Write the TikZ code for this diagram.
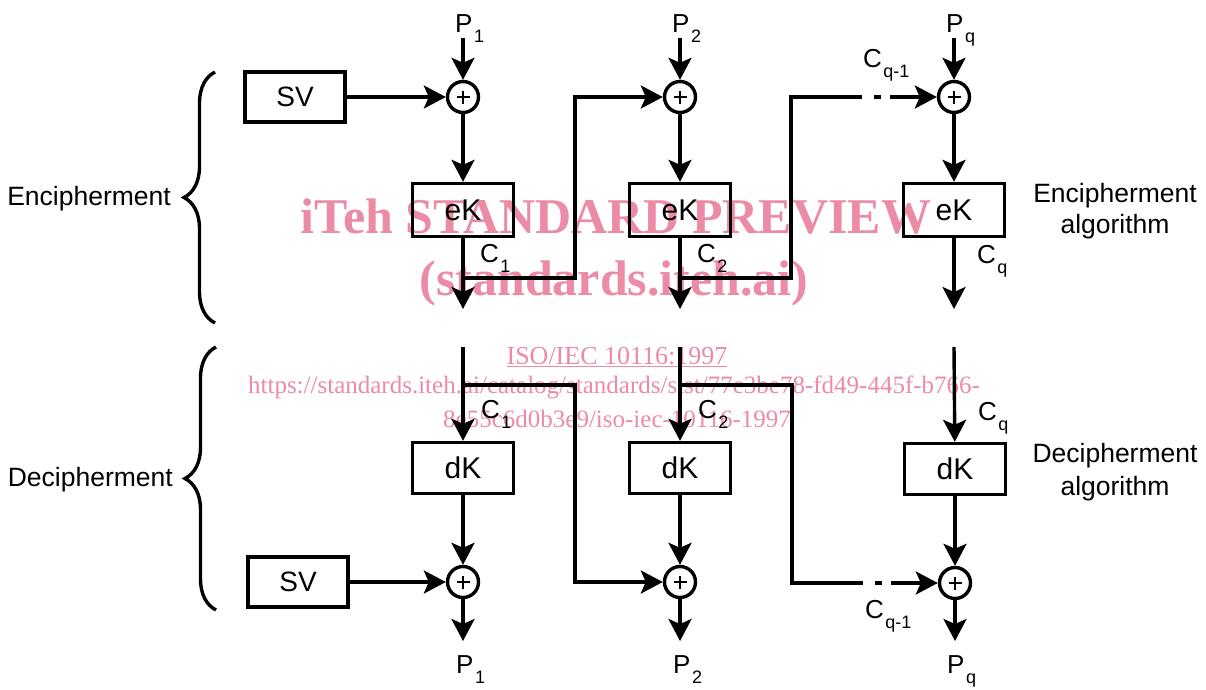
\documentclass[tikz,border=0pt]{standalone}
\usepackage{fontspec}
\setmainfont{Liberation Sans}
\newfontfamily\wmfont{Liberation Serif}
\usetikzlibrary{arrows.meta,decorations.pathreplacing,calc}
\definecolor{wmpink}{RGB}{236,139,165}
\newcommand\fsz[1]{\fontsize{#1}{#1}\selectfont}
\newcommand\sbs[1]{\hspace{1.5pt}\raisebox{-10.5pt}{\fsz{18}#1}}
\begin{document}
\begin{tikzpicture}[x=1pt,y=-1pt,
  lw/.style={line width=3.4pt},
  arr/.style={lw,-{Stealth[length=22pt,width=23pt,inset=5pt]}},
  blk/.style={draw,lw,minimum width=101pt,minimum height=53pt,inner sep=0pt,font=\fsz{30}},
  svbox/.style={draw,lw,minimum width=100pt,minimum height=50pt,inner sep=0pt,font=\fsz{28}},
  xor/.style={circle,draw,lw,minimum size=31pt,inner sep=0pt,
    path picture={\draw[line width=2.3pt]
      ($(path picture bounding box.center)+(-6.5pt,0pt)$) -- ++(13pt,0pt)
      ($(path picture bounding box.center)+(0pt,-6.5pt)$) -- ++(0pt,13pt);}},
  lab/.style={font=\fsz{26},inner sep=0pt,anchor=base west},
  side/.style={font=\fsz{26.5},inner sep=0pt},
  wm/.style={text=wmpink,inner sep=0pt,anchor=base},
  curly/.style={lw,decorate,decoration={brace,amplitude=31pt}}]
\useasboundingbox (0,0) rectangle (1206,689);

% watermark (behind the diagram)
\node[wm,font={\wmfont\bfseries\fsz{50}}] (wm1) at (616,233) {iTeh STANDARD PREVIEW};
\node[wm,font={\wmfont\bfseries\fsz{50}}] (wm2) at (614,295) {(standards.iteh.ai)};
\node[wm,font={\wmfont\fsz{26}}] (wm3) at (617,364) {\underline{ISO/IEC 10116:1997}};
\node[wm,font={\wmfont\fsz{25}}] (wm4) at (614,393) {https://standards.iteh.ai/catalog/standards/sist/77e3be78-fd49-445f-b766-};
\node[wm,font={\wmfont\fsz{25}}] (wm5) at (617,427) {8e55c6d0b3e9/iso-iec-10116-1997};

% ---------- Encipherment ----------
\node[svbox] (sv1) at (295,97) {SV};
\node[xor] (xe1) at (463,97) {};
\node[xor] (xe2) at (680,97) {};
\node[xor] (xe3) at (954,97) {};
\node[blk] (ek1) at (463,210) {eK};
\node[blk] (ek2) at (680,210) {eK};
\node[blk] (ek3) at (954,210) {eK};

\node[lab] (p1) at (455,32) {P\sbs{1}};
\node[lab] (p2) at (672,32) {P\sbs{2}};
\node[lab] (pq) at (946,32) {P\sbs{q}};
\coordinate (p1s) at (463,38);
\coordinate (p2s) at (680,38);
\coordinate (pqs) at (954,38);

\draw[arr] (p1s) -- (xe1);
\draw[arr] (p2s) -- (xe2);
\draw[arr] (pqs) -- (xe3);
\draw[arr] (sv1) -- (xe1);
\draw[arr] (xe1) -- (ek1);
\draw[arr] (xe2) -- (ek2);
\draw[arr] (xe3) -- (ek3);

\coordinate (o1) at (463,309);
\coordinate (o2) at (680,309);
\coordinate (o3) at (954,309);
\draw[arr] (ek1) -- (o1);
\draw[arr] (ek2) -- (o2);
\draw[arr] (ek3) -- (o3);

\coordinate (b1) at (463,278);
\coordinate (b1a) at (575,278);
\coordinate (b1b) at (575,97);
\draw[arr] (b1) -- (b1a) -- (b1b) -- (xe2);

\coordinate (b2) at (680,278);
\coordinate (b2a) at (791,278);
\coordinate (b2b) at (791,97);
\coordinate (b2c) at (862,97);
\coordinate (d1a) at (874,97);
\coordinate (d1b) at (881,97);
\coordinate (b2d) at (890,97);
\draw[lw] (b2) -- (b2a) -- (b2b) -- (b2c);
\draw[lw] (d1a) -- (d1b);
\draw[arr] (b2d) -- (xe3);

\node[lab] (c1) at (480,262) {C\sbs{1}};
\node[lab] (c2) at (697,262) {C\sbs{2}};
\node[lab] (cq) at (977,263) {C\sbs{q}};
\node[lab] (cq1) at (863,67) {C\sbs{q-1}};

% ---------- Decipherment ----------
\coordinate (t1) at (463,347);
\coordinate (t2) at (680,347);
\coordinate (t3) at (954,347);
\node[blk,minimum height=51pt] (dk1) at (463,468) {dK};
\node[blk,minimum height=51pt] (dk2) at (680,468) {dK};
\node[blk,minimum height=51pt] (dk3) at (955,469) {dK};
\node[xor] (xd1) at (463,582) {};
\node[xor] (xd2) at (680,582) {};
\node[xor] (xd3) at (955,583) {};
\node[svbox] (sv2) at (298,582) {SV};

\draw[arr] (t1) -- (dk1);
\draw[arr] (t2) -- (dk2);
\draw[arr] (t3) -- (dk3);
\draw[arr] (dk1) -- (xd1);
\draw[arr] (dk2) -- (xd2);
\draw[arr] (dk3) -- (xd3);
\draw[arr] (sv2) -- (xd1);

\coordinate (e1) at (463,641);
\coordinate (e2) at (680,641);
\coordinate (e3) at (955,641);
\draw[arr] (xd1) -- (e1);
\draw[arr] (xd2) -- (e2);
\draw[arr] (xd3) -- (e3);

\coordinate (g1) at (463,385);
\coordinate (g1a) at (575,385);
\coordinate (g1b) at (575,582);
\draw[arr] (g1) -- (g1a) -- (g1b) -- (xd2);

\coordinate (g2) at (680,385);
\coordinate (g2a) at (792,385);
\coordinate (g2b) at (792,583);
\coordinate (g2c) at (863,583);
\coordinate (d2a) at (875,583);
\coordinate (d2b) at (882,583);
\coordinate (g2d) at (891,583);
\draw[lw] (g2) -- (g2a) -- (g2b) -- (g2c);
\draw[lw] (d2a) -- (d2b);
\draw[arr] (g2d) -- (xd3);

\node[lab] (dc1) at (481,418) {C\sbs{1}};
\node[lab] (dc2) at (698,418) {C\sbs{2}};
\node[lab] (dcq) at (978,420) {C\sbs{q}};
\node[lab] (dcq1) at (865,618) {C\sbs{q-1}};

\node[lab] (dp1) at (456,673) {P\sbs{1}};
\node[lab] (dp2) at (673,673) {P\sbs{2}};
\node[lab] (dpq) at (947,673) {P\sbs{q}};

% ---------- braces and side labels ----------
\coordinate (br1a) at (215,323);
\coordinate (br1b) at (215,72);
\coordinate (br2a) at (216,610);
\coordinate (br2b) at (216,347);
\draw[curly] (br1a) -- (br1b);
\draw[curly] (br2a) -- (br2b);
\node[side,anchor=base east] (enc) at (171,205) {Encipherment};
\node[side,anchor=base east] (dec) at (173,486) {Decipherment};
\node[side,align=center] (encalg) at (1115,211) {Encipherment\\[5pt]algorithm};
\node[side,align=center] (decalg) at (1115,472) {Decipherment\\[6pt]algorithm};
\end{tikzpicture}
\end{document}
